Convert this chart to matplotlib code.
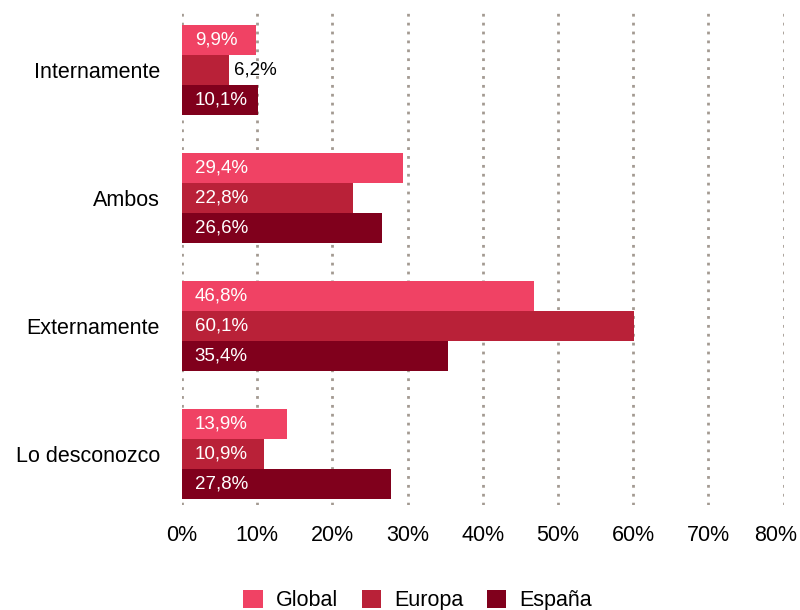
import matplotlib.pyplot as plt
import matplotlib.transforms as mtransforms
import numpy as np

plt.rcParams['font.family'] = ['Liberation Sans', 'DejaVu Sans']

categories = ['Internamente', 'Ambos', 'Externamente', 'Lo desconozco']
series = ['Global', 'Europa', 'España']
global_vals = [9.9, 29.4, 46.8, 13.9]
europa_vals = [6.2, 22.8, 60.1, 10.9]
espana_vals = [10.1, 26.6, 35.4, 27.8]
colors = ['#f04264', '#b92138', '#80001c']

fig = plt.figure(figsize=(8, 6.1), dpi=100)
ax = fig.add_axes([0.2275, 0.172, 0.752, 0.812])

y = np.arange(len(categories))
h = 0.235
for k, (name, vals, col) in enumerate(zip(series, [global_vals, europa_vals, espana_vals], colors)):
    pos = y + (k - 1) * h
    ax.barh(pos, vals, height=h, color=col, label=name, zorder=3)
    for p, v in zip(pos, vals):
        txt = f'{v:.1f}'.replace('.', ',') + '%'
        if v < 8:
            ax.text(v + 0.7, p, txt, va='center', ha='left', color='black', fontsize=13.5, zorder=4)
        else:
            ax.text(1.7, p, txt, va='center', ha='left', color='white', fontsize=13.5, zorder=4)

ax.set_xlim(0, 80)
ax.set_ylim(3.4, -0.47)
ax.set_xticks(np.arange(0, 81, 10))
ax.set_xticklabels([f'{t}%' for t in range(0, 81, 10)], fontsize=15.5)
ax.set_yticks(y)
ax.set_yticklabels(categories, fontsize=15.5)
ax.tick_params(length=0)
ax.tick_params(axis='y', pad=16)
ax.tick_params(axis='x', pad=14)
ax.grid(axis='x', linestyle=(0, (1, 2.2)), color='#a39a92', linewidth=2, zorder=0)
for s in ax.spines.values():
    s.set_visible(False)

# nudge last tick label so it stays inside the figure
last = ax.get_xticklabels()[-1]
last.set_transform(last.get_transform() + mtransforms.ScaledTranslation(-6 / 72, 0, fig.dpi_scale_trans))

fig.legend(loc='lower center', bbox_to_anchor=(0.522, -0.034), ncol=3, frameon=False,
           fontsize=15.5, handlelength=0.9, handleheight=0.9, handletextpad=0.6,
           columnspacing=1.1)

fig.savefig('out.png')
